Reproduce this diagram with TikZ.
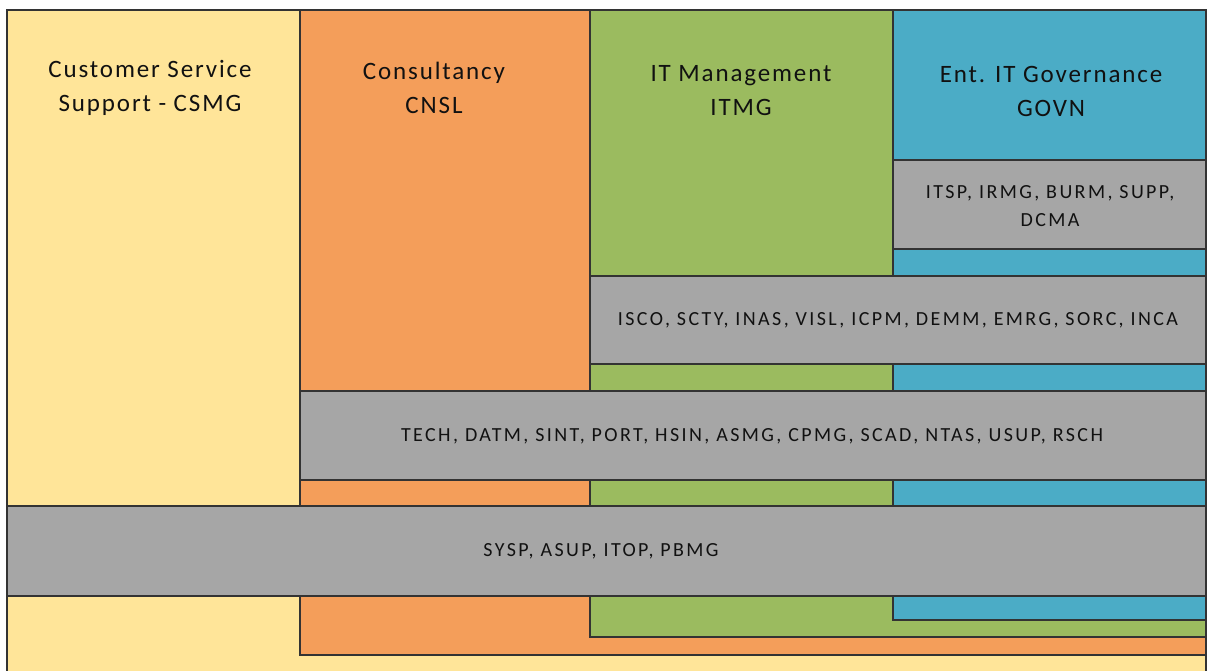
\documentclass[tikz,border=0pt]{standalone}
\usepackage{fontspec}
\setmainfont{Carlito}
\newfontfamily\titlefont[LetterSpace=7.5]{Carlito}
\newfontfamily\codefont[LetterSpace=12]{Carlito}
\definecolor{csmg}{HTML}{FFE599}
\definecolor{cnsl}{HTML}{F49E5A}
\definecolor{itmg}{HTML}{9BBB5F}
\definecolor{govn}{HTML}{4BACC6}
\definecolor{band}{HTML}{A6A6A6}
\definecolor{edge}{HTML}{333333}
\definecolor{ink}{HTML}{111111}
\tikzset{
  area/.style={draw=edge, line width=1.4pt},
  title/.style={align=center, font=\titlefont\fontsize{25}{34}\selectfont, text=ink, inner sep=0pt},
  codes/.style={align=center, font=\codefont\fontsize{20}{28}\selectfont, text=ink, inner sep=0pt}
}
\begin{document}
\begin{tikzpicture}[x=1pt, y=-1pt]
\useasboundingbox (0,0) rectangle (1207,671);
\fill[white] (0,0) rectangle (1207,671);
\begin{scope}
\clip (0,0) rectangle (1207,671);
% nested service groups
\draw[area, fill=csmg] (7,10) rectangle (1206,690);
\draw[area, fill=cnsl] (300,10) rectangle (1206,655);
\draw[area, fill=itmg] (590,10) rectangle (1206,637);
\draw[area, fill=govn] (893,10) rectangle (1206,620);
% shared code bands
\draw[area, fill=band] (893,160) rectangle (1206,249);
\draw[area, fill=band] (590,276) rectangle (1206,364);
\draw[area, fill=band] (300,391) rectangle (1206,480);
\draw[area, fill=band] (7,506) rectangle (1206,596);
\end{scope}
% group titles
\node[title] (tcsmg) at (150,88) {Customer Service\\Support - CSMG};
\node[title] (tcnsl) at (434,88) {Consultancy\\CNSL};
\node[title] (titmg) at (741,91) {IT Management\\ITMG};
\node[title] (tgovn) at (1051,91) {Ent. IT Governance\\GOVN};
% band labels
\node[codes] (bgovn) at (1050,206) {ITSP, IRMG, BURM, SUPP,\\DCMA};
\node[codes] (bitmg) at (898,320) {ISCO, SCTY, INAS, VISL, ICPM, DEMM, EMRG, SORC, INCA};
\node[codes] (bcnsl) at (752,436) {TECH, DATM, SINT, PORT, HSIN, ASMG, CPMG, SCAD, NTAS, USUP, RSCH};
\node[codes] (bcsmg) at (601,551) {SYSP, ASUP, ITOP, PBMG};
\end{tikzpicture}
\end{document}
